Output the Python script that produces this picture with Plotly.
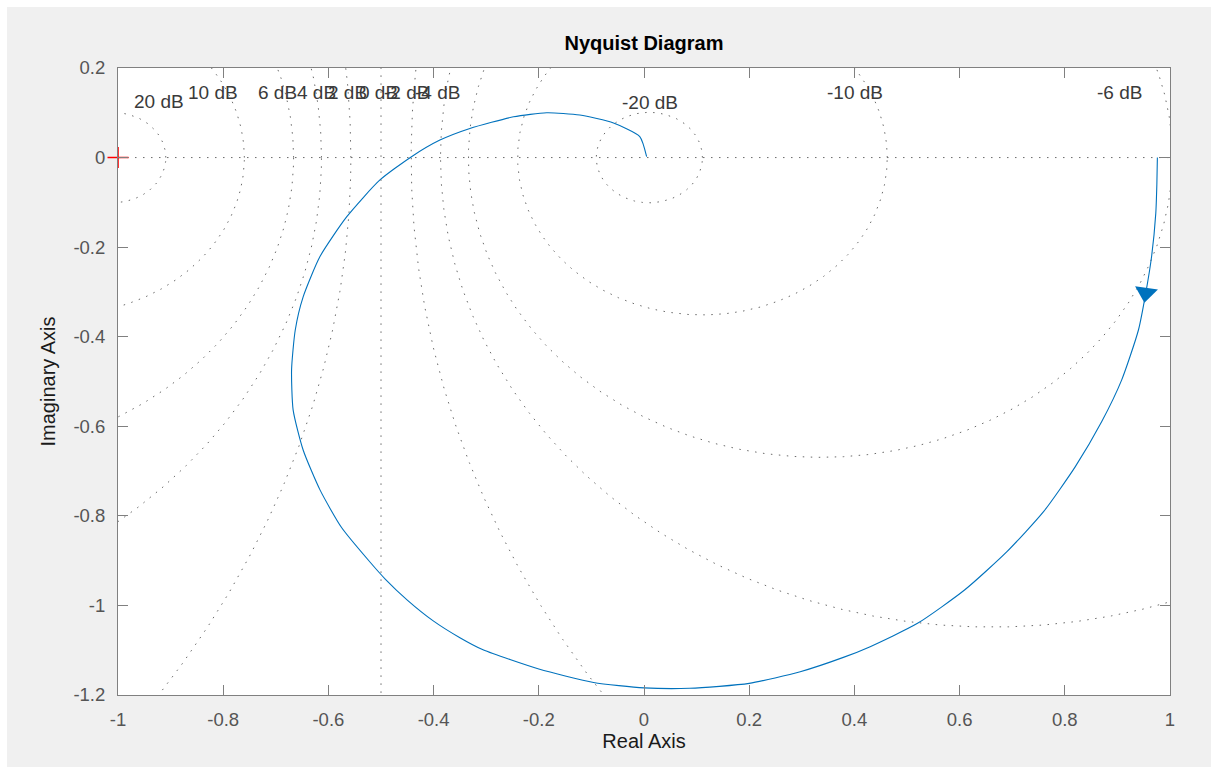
import numpy as np
import plotly.graph_objects as go

# Nyquist locus of the open-loop response (real / imaginary parts, increasing frequency)
re_vals = [0.976, 0.975, 0.973, 0.965, 0.954, 0.940, 0.908, 0.870, 0.820, 0.760,
           0.690, 0.610, 0.520, 0.430, 0.379, 0.297, 0.200, 0.087, 0.000, -0.096,
           -0.200, -0.306, -0.350, -0.400, -0.450, -0.492, -0.521, -0.575, -0.616, -0.648,
           -0.667, -0.670, -0.663, -0.648, -0.616, -0.565, -0.502, -0.442, -0.388, -0.331,
           -0.248, -0.185, -0.122, -0.058, -0.008, 0.005]
im_vals = [0.000, -0.060, -0.124, -0.221, -0.302, -0.385, -0.497, -0.590, -0.690, -0.790,
           -0.880, -0.965, -1.040, -1.092, -1.116, -1.148, -1.174, -1.185, -1.184, -1.172,
           -1.142, -1.099, -1.072, -1.035, -0.988, -0.941, -0.903, -0.826, -0.742, -0.653,
           -0.564, -0.474, -0.385, -0.311, -0.221, -0.132, -0.050, 0.002, 0.039, 0.065,
           0.091, 0.100, 0.095, 0.077, 0.047, 0.002]

# Direction arrow on the locus
arrow_re = [0.954]
arrow_im = [-0.302]

# Critical point
crit_re = [-1.0]
crit_im = [0.0]

# Constant closed-loop magnitude contours (dB) and their label anchors
grid_db = [-20, -10, -6, -4, -2, 0, 2, 4, 6, 10, 20]
label_text = ["20 dB", "10 dB", "6 dB", "4 dB", "2 dB", "0 dB", "-2 dB", "-4 dB",
              "-20 dB", "-10 dB", "-6 dB"]
label_x = [-0.973, -0.871, -0.738, -0.663, -0.605, -0.546, -0.498, -0.439,
           -0.046, 0.344, 0.857]
label_y = [0.125, 0.145, 0.146, 0.146, 0.146, 0.146, 0.146, 0.146,
           0.124, 0.145, 0.145]

x_ticks = [-1, -0.8, -0.6, -0.4, -0.2, 0, 0.2, 0.4, 0.6, 0.8, 1]
x_ticktext = ["-1", "-0.8", "-0.6", "-0.4", "-0.2", "0", "0.2", "0.4", "0.6", "0.8", "1"]
y_ticks = [-1.2, -1, -0.8, -0.6, -0.4, -0.2, 0, 0.2]
y_ticktext = ["-1.2", "-1", "-0.8", "-0.6", "-0.4", "-0.2", "0", "0.2"]

GRID_COLOR = "#6a6a6a"
GRID_DASH = "1.5px,6.5px"
LINE_BLUE = "#0072BD"
FONT = "Liberation Sans, Arial, Helvetica, sans-serif"

fig = go.Figure()

# M-circles: |G/(1+G)| = M  ->  centre -M^2/(M^2-1), radius |M/(M^2-1)|
theta = np.linspace(0, 2 * np.pi, 1441)
for db in grid_db:
    if db == 0:
        gx = [-0.5, -0.5]
        gy = [-5, 5]
    else:
        m = 10 ** (db / 20)
        c = -m * m / (m * m - 1)
        r = abs(m / (m * m - 1))
        gx = c + r * np.cos(theta)
        gy = r * np.sin(theta)
    fig.add_trace(go.Scatter(x=gx, y=gy, mode="lines", hoverinfo="skip",
                             line=dict(color=GRID_COLOR, width=1, dash=GRID_DASH),
                             showlegend=False))

# Real axis
fig.add_trace(go.Scatter(x=[-1.5, 1.5], y=[0, 0], mode="lines", hoverinfo="skip",
                         line=dict(color=GRID_COLOR, width=1, dash=GRID_DASH),
                         showlegend=False))

# Nyquist curve
fig.add_trace(go.Scatter(x=re_vals, y=im_vals, mode="lines",
                         line=dict(color=LINE_BLUE, width=1.1, shape="spline",
                                   smoothing=0.6),
                         showlegend=False))

# Arrow
fig.add_trace(go.Scatter(x=arrow_re, y=arrow_im, mode="markers",
                         marker=dict(symbol="triangle-down", size=20, angle=8,
                                     color=LINE_BLUE, line=dict(width=0)),
                         showlegend=False))

# Critical point marker
fig.add_trace(go.Scatter(x=crit_re, y=crit_im, mode="markers", cliponaxis=False,
                         marker=dict(symbol="cross-thin", size=15,
                                     line=dict(color="#ff0000", width=1.6)),
                         showlegend=False))

for t, lx, ly in zip(label_text, label_x, label_y):
    fig.add_annotation(x=lx, y=ly, text=t, showarrow=False, xanchor="left",
                       yanchor="middle", font=dict(family=FONT, size=19, color="#3a3a3a"))

# Thin white border along top and left of the figure
fig.add_shape(type="rect", xref="paper", yref="paper", x0=-0.2, x1=1.2,
              y0=1 + (68 - 7) / 627, y1=1.3, fillcolor="white", line=dict(width=0),
              layer="below")
fig.add_shape(type="rect", xref="paper", yref="paper", x0=-0.2, x1=(7 - 118) / 1052,
              y0=-0.3, y1=1.3, fillcolor="white", line=dict(width=0), layer="below")

axis_common = dict(showgrid=False, zeroline=False, showline=True, mirror="ticks",
                   ticks="inside", ticklen=10, tickwidth=1, tickcolor="#808080",
                   linecolor="#808080", linewidth=1,
                   tickfont=dict(family=FONT, size=18.5, color="#555555"))

fig.update_layout(
    width=1211, height=767,
    margin=dict(l=118, r=41, t=68, b=72),
    paper_bgcolor="#f0f0f0", plot_bgcolor="white",
    title=dict(text="<b>Nyquist Diagram</b>", x=0.5, xref="paper", xanchor="center",
               y=1 - 43 / 767, yref="container", yanchor="middle",
               font=dict(family=FONT, size=20, color="#000000")),
    xaxis=dict(range=[-1, 1], tickvals=x_ticks, ticktext=x_ticktext,
               ticklabelstandoff=8,
               title=dict(text="Real Axis", standoff=2,
                          font=dict(family=FONT, size=20, color="#1a1a1a")),
               **axis_common),
    yaxis=dict(range=[-1.2, 0.2], tickvals=y_ticks, ticktext=y_ticktext,
               ticklabelstandoff=8,
               title=dict(text="Imaginary Axis", standoff=12,
                          font=dict(family=FONT, size=20, color="#1a1a1a")),
               **axis_common),
)

fig.write_html("out.html")
